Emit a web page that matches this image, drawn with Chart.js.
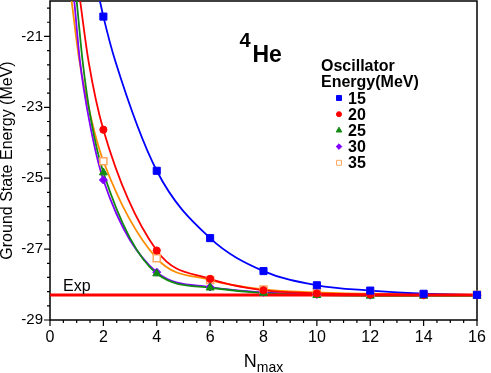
<!DOCTYPE html>
<html>
<head>
<meta charset="utf-8">
<script src="https://cdn.jsdelivr.net/npm/chart.js@4.4.0/dist/chart.umd.min.js"></script>
<style>
  html, body { margin: 0; padding: 0; background: #fff; }
  #contenedor { width: 491px; height: 373px; }
</style>
</head>
<body>
<div id="contenedor"><canvas id="myChart"></canvas></div>
<script>
// datos
const nmax = [2, 4, 6, 8, 10, 12, 14, 16]
const e15 = [-20.44, -24.79, -26.69, -27.62, -28.02, -28.17, -28.26, -28.29]
const e20 = [-23.63, -27.04, -27.84, -28.16, -28.25, -28.28, -28.29, -28.30]
const e25 = [-24.84, -27.69, -28.09, -28.24, -28.30, -28.32, -28.32, -28.32]
const e30 = [-25.05, -27.65, -28.07, -28.22, -28.28, -28.30, -28.30, -28.30]
const e35 = [-24.52, -27.26, -27.87, -28.14, -28.22, -28.26, -28.28, -28.29]
const osciladores = ['15', '20', '25', '30', '35']

// puntos extra de las curvas ajustadas (donde salen por arriba)
const curvaX15 = [1.87, 2.44]
const curvaY15 = [-20.0, -21.68]
const curvaX20 = [1.13, 1.44]
const curvaY20 = [-20.0, -21.68]
const curvaX25 = [1.0, 1.22, 1.54]
const curvaY25 = [-20.0, -21.68, -23.37]
const curvaX30 = [0.91, 1.12, 1.47]
const curvaY30 = [-20.0, -21.68, -23.37]
const curvaX35 = [0.81, 1.10, 1.56]
const curvaY35 = [-20.0, -21.68, -23.37]

const expEnergia = -28.296
const xTicks = [0, 2, 4, 6, 8, 10, 12, 14, 16]
const yTicks = [-29, -27, -25, -23, -21]

const fuente = '"Liberation Sans", Arial, Helvetica, sans-serif'
let colores = ['#0000ff', '#ff0000', '#138a13', '#8000ff', '#ff8c00']
let estilos = ['rect', 'circle', 'triangle', 'rectRot', 'rect']
let radios = [5, 3.6, 4.6, 4, 5]
let series = [e15, e20, e25, e30, e35]
let extras = [[curvaX15, curvaY15], [curvaX20, curvaY20], [curvaX25, curvaY25], [curvaX30, curvaY30], [curvaX35, curvaY35]]

let puntos = function (xs, ys) {
    return xs.map((x, i) => ({ x: x, y: ys[i] }))
}

let curva = function (i) {
    let p = puntos(nmax, series[i]).concat(puntos(extras[i][0], extras[i][1]))
    p.sort((a, b) => a.x - b.x)
    return p
}

let losDatasets = []
series.forEach((s, i) => {
    losDatasets.push({
        data: curva(i),
        showLine: true,
        pointRadius: 0,
        borderColor: colores[i],
        borderWidth: 1.8,
        cubicInterpolationMode: 'monotone',
        order: 2
    })
    losDatasets.push({
        data: puntos(nmax, s),
        showLine: false,
        pointStyle: estilos[i],
        pointRadius: radios[i],
        backgroundColor: i == 4 ? '#ffffff' : colores[i],
        borderColor: i == 4 ? '#ffa860' : colores[i],
        borderWidth: i == 4 ? 1.5 : 1,
        clip: false,
        order: 0
    })
})
losDatasets.push({
    data: [{ x: 0, y: expEnergia }, { x: 16, y: expEnergia }],
    showLine: true,
    pointRadius: 0,
    borderColor: '#ff0000',
    borderWidth: 3,
    order: 1
})

// marco, marcas de los ejes y textos
const marco = {
    id: 'marco',
    beforeDatasetsDraw(chart) {
        const ctx = chart.ctx
        const a = chart.chartArea
        const sx = chart.scales.x
        const sy = chart.scales.y
        ctx.save()
        ctx.strokeStyle = '#000'
        ctx.lineWidth = 1.5
        ctx.strokeRect(a.left, a.top, a.right - a.left, a.bottom - a.top)
        ctx.lineWidth = 1.2
        ctx.beginPath()
        for (let k = 0; k <= 32; k++) {
            let px = sx.getPixelForValue(k * 0.5)
            let largo = k % 4 == 0 ? 6 : 3
            ctx.moveTo(px, a.bottom)
            ctx.lineTo(px, a.bottom + largo)
        }
        for (let k = 0; k <= 22; k++) {
            let py = sy.getPixelForValue(-29 + k * 0.4)
            let largo = k % 5 == 0 ? 6 : 3
            ctx.moveTo(a.left, py)
            ctx.lineTo(a.left - largo, py)
        }
        ctx.stroke()
        ctx.restore()
    },
    afterDraw(chart) {
        const ctx = chart.ctx
        const a = chart.chartArea
        const sy = chart.scales.y
        ctx.save()
        ctx.fillStyle = '#000'
        ctx.textBaseline = 'alphabetic'
        ctx.textAlign = 'left'

        ctx.font = 'bold 20px ' + fuente
        ctx.fillText('4', 239.5, 46.5)
        ctx.font = 'bold 23px ' + fuente
        ctx.fillText('He', 252.5, 62.3)

        ctx.font = 'bold 16px ' + fuente
        ctx.fillText('Oscillator', 321, 70.7)
        ctx.fillText('Energy(MeV)', 321, 86.7)
        osciladores.forEach((et, i) => {
            let base = 103.5 + i * 16.2
            ctx.fillStyle = '#000'
            ctx.fillText(et, 348, base)
            ctx.fillStyle = i == 4 ? '#ffffff' : colores[i]
            ctx.strokeStyle = i == 4 ? '#ffa860' : colores[i]
            Chart.helpers.drawPoint(ctx, {
                pointStyle: estilos[i], radius: radios[i] * 0.7,
                borderWidth: i == 4 ? 1.3 : 1, rotation: 0
            }, 339, base - 5.5)
        })

        ctx.fillStyle = '#000'
        ctx.font = '16px ' + fuente
        ctx.fillText('Exp', 63, sy.getPixelForValue(expEnergia) - 4.5)

        // N con subindice max
        ctx.font = '18px ' + fuente
        let anchoN = ctx.measureText('N').width
        ctx.font = '14px ' + fuente
        let anchoMax = ctx.measureText('max').width
        let inicio = (a.left + a.right) / 2 - (anchoN + anchoMax) / 2
        ctx.font = '18px ' + fuente
        ctx.fillText('N', inicio, 366.5)
        ctx.font = '14px ' + fuente
        ctx.fillText('max', inicio + anchoN, 371.5)
        ctx.restore()
    }
}

let sinRelleno = function (s) {
    s.paddingTop = 0
    s.paddingBottom = 0
    s.paddingLeft = 0
    s.paddingRight = 0
}

const contenedor = document.getElementById('myChart').getContext('2d')
window.myCharts = new Chart(contenedor, {
    type: 'scatter',
    data: { datasets: losDatasets },
    options: {
        responsive: true,
        maintainAspectRatio: false,
        animation: false,
        events: [],
        layout: { autoPadding: false, padding: { top: 1, right: 14, left: 0, bottom: 0 } },
        plugins: { legend: { display: false }, tooltip: { enabled: false } },
        scales: {
            x: {
                type: 'linear', min: 0, max: 16,
                afterBuildTicks: s => { s.ticks = xTicks.map(v => ({ value: v })) },
                afterFit: s => { s.height = 53; sinRelleno(s) },
                ticks: { font: { size: 16, family: fuente }, color: '#000', padding: 8, maxRotation: 0 },
                grid: { display: false, drawTicks: false },
                border: { display: false }
            },
            y: {
                type: 'linear', min: -29, max: -20,
                afterBuildTicks: s => { s.ticks = yTicks.map(v => ({ value: v })) },
                afterFit: s => { s.width = 50; sinRelleno(s) },
                ticks: { font: { size: 15, family: fuente }, color: '#000', padding: 7 },
                grid: { display: false, drawTicks: false },
                border: { display: false },
                title: {
                    display: true, text: 'Ground State Energy (MeV)', color: '#000',
                    font: { size: 16, family: fuente, lineHeight: 1 }, padding: { top: 0, bottom: 0 }
                }
            }
        }
    },
    plugins: [marco]
})
</script>
</body>
</html>
